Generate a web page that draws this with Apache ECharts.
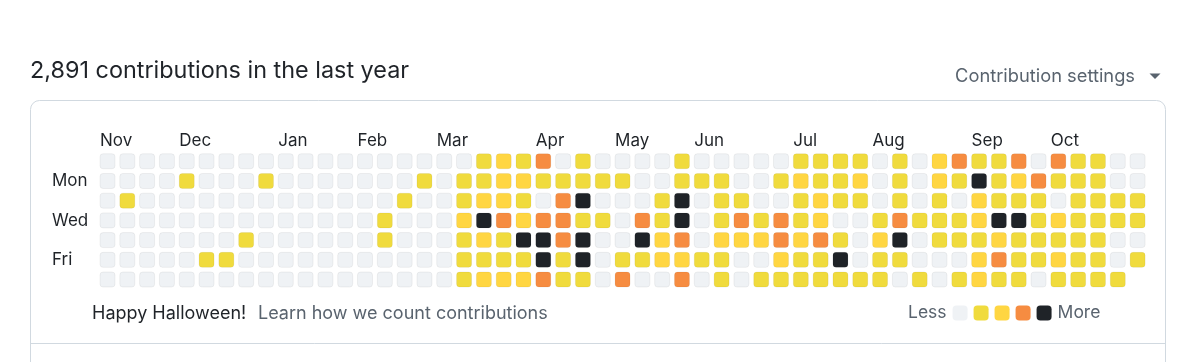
<!DOCTYPE html>
<html>
<head>
<meta charset="utf-8">
<script src="https://cdn.jsdelivr.net/npm/echarts@6/dist/echarts.min.js"></script>
<style>
html,body{margin:0;padding:0;background:#ffffff;}
#chart{width:1200px;height:362px;}
</style>
</head>
<body>
<div id="chart"></div>
<script>
// ---- data ----
const title = '2,891 contributions in the last year';
const dayNames = ['Sun', 'Mon', 'Tue', 'Wed', 'Thu', 'Fri', 'Sat'];
const monthNames = ['Nov', 'Dec', 'Jan', 'Feb', 'Mar', 'Apr', 'May', 'Jun', 'Jul', 'Aug', 'Sep', 'Oct'];
const monthStartWeeks = [0, 4, 9, 13, 17, 22, 26, 30, 35, 39, 44, 48];
const weekCount = 53;
// contribution level (0-4) per weekday, one value per week column
const sun = [0,0,0,0,0,0,0,0,0,0,0,0,0,0,0,0,0,0,0, 1,2,1,3,0,1,0, 0,0,0,1,0,0,0,0,0,1,1,1,1, 0,1,0,2,3,1,1,3,0,3,1,1,0,0];
const mon = [0,0,0,0,1,0,0,0,1,0,0,0,0, 0,0,0,1,0,1,1,2,2,1,1,1,1, 1,0,0,1,1,1,0,0,1,2,1,1,2, 0,1,0,2,1,4,1,2,3,1,1,1,0,0];
const tue = [0,1,0,0,0,0,0,0,0,0,0,0,0, 0,0,1,0,0,1,2,2,1,0,3,4,0, 0,0,1,4,0,1,1,0,0,1,2,1,1, 0,1,0,1,0,2,1,1,1,0,1,1,1,1];
const wed = [0,0,0,0,0,0,0,0,0,0,0,0,0, 0,1,0,0,0,2,4,3,2,3,3,1,1, 0,3,1,4,0,1,3,1,3,1,2,0,0, 1,3,1,1,1,2,4,4,1,2,1,1,1,1];
const thu = [0,0,0,0,0,0,0,1,0,0,0,0,0, 0,1,0,0,0,1,2,1,4,4,3,4,0, 0,4,2,3,0,2,2,2,3,2,3,1,0, 2,4,0,1,1,1,2,1,1,1,1,1,0,0];
const fri = [0,0,0,0,0,1,1,0,0,0,0,0,0, 0,0,0,0,0,1,1,1,1,4,1,4,0, 1,1,2,2,1,1,0,0,2,1,1,4,0, 1,1,0,0,0,2,3,1,1,2,1,1,0,1];
const sat = [0,0,0,0,0,0,0,0,0,0,0,0,0, 0,0,0,0,0,1,2,2,2,3,1,1,0, 3,0,0,3,0,1,0,1,1,1,1,1,1, 1,0,1,0,1,2,1,1,0,1,1,1,1,null];
const levelColors = ['#eff2f5', '#f0db3d', '#ffd642', '#f68c41', '#1f2328'];
const legendText = ['More', 'Less'];
const footerNote = 'Happy Halloween!';
const footerLink = 'Learn how we count contributions';
const settingsText = 'Contribution settings';

// ---- build ----
const rows = [sun, mon, tue, wed, thu, fri, sat];
const cells = [];
rows.forEach((arr, r) => arr.forEach((v, c) => { if (v !== null && v !== undefined) cells.push([c, r, v]); }));
const weeks = Array.from({length: weekCount}, (_, i) => 'W' + (i + 1));
const monthAxis = Array.from({length: weekCount + 1}, () => '');
monthStartWeeks.forEach((w, i) => { monthAxis[w] = monthNames[i]; });

const FONT = 'Inter, "Noto Sans", sans-serif';
const chart = echarts.init(document.getElementById('chart'), null, {renderer: 'canvas'});
chart.setOption({
  backgroundColor: '#ffffff',
  animation: false,
  title: {
    text: title, left: 25, top: 53,
    textStyle: {fontFamily: FONT, fontSize: 23.4, fontWeight: 'normal', color: '#1f2328', lineHeight: 26}
  },
  grid: {left: 97.6, top: 151.4, width: 1049.9, height: 138.0},
  xAxis: [
    {type: 'category', data: weeks, show: false, boundaryGap: true},
    {type: 'category', data: monthAxis, position: 'top', boundaryGap: false,
      axisLine: {show: false}, axisTick: {show: false}, splitLine: {show: false},
      axisLabel: {interval: 0, align: 'left', margin: 2, padding: [0, 0, 0, 2.4],
        fontFamily: FONT, fontSize: 17, color: '#1f2328'}}
  ],
  yAxis: {
    type: 'category', data: dayNames, inverse: true,
    axisLine: {show: false}, axisTick: {show: false}, splitLine: {show: false},
    axisLabel: {interval: (i) => i % 2 === 1, align: 'left', margin: 45.6,
      fontFamily: FONT, fontSize: 17, color: '#1f2328'}
  },
  visualMap: {
    type: 'piecewise', dimension: 2, orient: 'horizontal',
    left: 893, top: 289,
    pieces: levelColors.map((c, i) => ({value: i, color: c})),
    itemWidth: 15, itemHeight: 15, itemGap: 6, itemSymbol: 'roundRect',
    showLabel: false, text: legendText, textGap: 7, selectedMode: false, hoverLink: false,
    textStyle: {fontFamily: FONT, fontSize: 17.5, color: '#59636e'}
  },
  graphic: [
    {type: 'rect', silent: true, shape: {x: 30.5, y: 100.5, width: 1135, height: 400, r: 9},
      style: {fill: 'none', stroke: '#d1d9e0', lineWidth: 1}},
    {type: 'line', silent: true, shape: {x1: 30.5, y1: 343.5, x2: 1165.5, y2: 343.5},
      style: {stroke: '#d1d9e0', lineWidth: 1}},
    {type: 'text', x: 1135, y: 77, style: {text: settingsText, fontFamily: FONT, fontSize: 18.3,
      fill: '#59636e', textAlign: 'right', textVerticalAlign: 'middle'}},
    {type: 'polygon', shape: {points: [[1149.5, 73.5], [1160.5, 73.5], [1155, 79]]}, style: {fill: '#59636e'}},
    {type: 'text', x: 92, y: 314, style: {text: footerNote, fontFamily: FONT, fontSize: 18,
      fill: '#1f2328', textVerticalAlign: 'middle'}},
    {type: 'text', x: 258, y: 314, style: {text: footerLink, fontFamily: FONT, fontSize: 18,
      fill: '#59636e', textVerticalAlign: 'middle'}}
  ],
  series: [{
    type: 'custom', xAxisIndex: 0, yAxisIndex: 0, data: cells,
    encode: {x: 0, y: 1},
    renderItem: function (params, api) {
      const p = api.coord([api.value(0), api.value(1)]);
      const s = 15;
      return {type: 'rect',
        shape: {x: p[0] - s / 2, y: p[1] - s / 2, width: s, height: s, r: 3},
        style: {fill: api.visual('color'), stroke: 'rgba(31,35,40,0.06)', lineWidth: 1}};
    }
  }]
});
</script>
</body>
</html>
